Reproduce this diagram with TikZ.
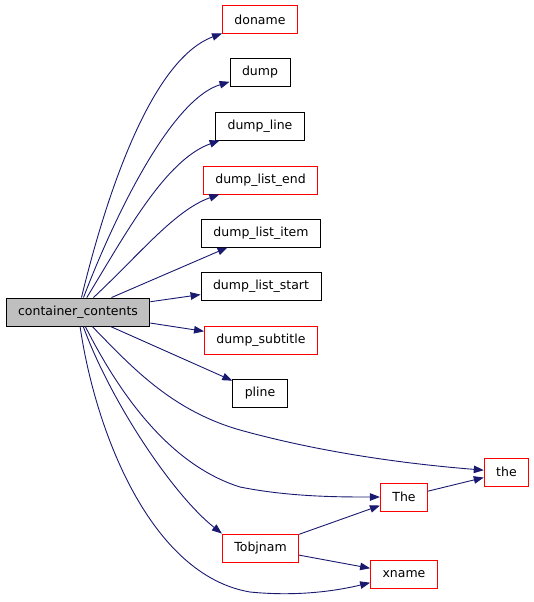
\documentclass[tikz,border=0pt]{standalone}
\usepackage{fontspec}
\setmainfont{DejaVu Sans}
\usepackage{xcolor}
\definecolor{edge}{HTML}{191970}
\definecolor{hot}{HTML}{FF0000}
\definecolor{cur}{HTML}{BFBFBF}
\usetikzlibrary{arrows.meta}
\tikzset{
  >={Triangle[length=10pt,width=7.5pt]},
  fn/.style={draw=black,line width=0.9pt,inner xsep=12pt,inner ysep=0pt,minimum height=28pt,font=\fontsize{12.5}{14}\selectfont,fill=white},
  rfn/.style={fn,draw=hot},
  cfn/.style={fn,fill=cur},
  call/.style={->,draw=edge,line width=0.9pt},
}

\begin{document}
\begin{tikzpicture}[x=1pt,y=-1pt]
\useasboundingbox (0,0) rectangle (533,602);
\node[cfn] (cc) at (78,312) {container\_contents};
\node[rfn] (doname) at (260,19.5) {doname};
\node[fn] (dump) at (260,72.5) {dump};
\node[fn] (dline) at (260,126) {dump\_line};
\node[rfn] (dlend) at (260.5,180) {dump\_list\_end};
\node[fn] (dlitem) at (261,233) {dump\_list\_item};
\node[fn] (dlstart) at (261,286) {dump\_list\_start};
\node[rfn] (dsub) at (261,340) {dump\_subtitle};
\node[fn] (pline) at (260,393) {pline};
\node[rfn] (the) at (506.5,472) {the};
\node[rfn] (The) at (404,497) {The};
\node[rfn] (tobj) at (260.5,548) {Tobjnam};
\node[rfn] (xname) at (404,574.5) {xname};
% calls out of container_contents
\draw[call] (cc) .. controls (105,200) and (150,60) .. (doname);
\draw[call] (cc) .. controls (113,220) and (170,100) .. (dump);
\draw[call] (cc) .. controls (125,235) and (165,160) .. (dline);
\draw[call] (cc) .. controls (140,254) and (175,210) .. (dlend);
\draw[call] (cc) -- (dlitem); \draw[call] (cc) -- (dlstart);
\draw[call] (cc) -- (dsub); \draw[call] (cc) -- (pline);
\draw[call] (cc) .. controls (130,365) and (170,410) .. (240,430) .. controls (330,455) and (420,465) .. (the);
\draw[call] (cc) .. controls (120,395) and (170,465) .. (240,487) .. controls (290,497) and (340,497) .. (The);
\draw[call] (cc) .. controls (110,400) and (172,494) .. (tobj.north west);
\draw[call] (cc) .. controls (95,430) and (150,575) .. (250,592) .. controls (300,597) and (340,590) .. (xname);
% second level
\draw[call] (The) -- (the); \draw[call] (tobj) -- (The); \draw[call] (tobj) -- (xname);
\end{tikzpicture}
\end{document}
